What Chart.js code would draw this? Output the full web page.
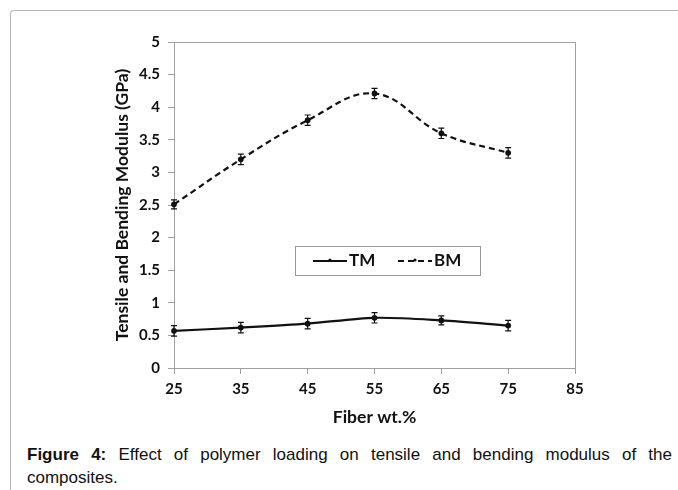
<!DOCTYPE html>
<html>
<head>
<meta charset="utf-8">
<script src="https://cdn.jsdelivr.net/npm/chart.js@4.4.0/dist/chart.umd.min.js"></script>
<style>
  body { margin: 0; background: #fff; width: 678px; height: 490px; overflow: hidden; position: relative; }
  #frame { position: absolute; left: 10px; top: 10px; width: 700px; height: 520px;
    border-top: 1px solid #b4b4b4; border-left: 1px solid #b4b4b4; border-top-left-radius: 4px; }
  #wrap { position: absolute; left: 0; top: 0; width: 678px; height: 440px; }
  #caption { position: absolute; left: 27px; top: 443px; width: 645px;
    font-family: "Liberation Sans", Arial, sans-serif; font-size: 17px; line-height: 23px;
    text-align: justify; text-align-last: left; color: #111; }
</style>
</head>
<body>
<div id="frame"></div>
<div id="wrap"><canvas id="chart"></canvas></div>
<div id="caption"><b>Figure 4:</b> Effect of polymer loading on tensile and bending modulus of the composites.</div>
<script>
// ------- Data -------
let fiber = [25, 35, 45, 55, 65, 75];
let tm = [0.57, 0.62, 0.68, 0.77, 0.73, 0.65];
let tmErr = [0.08, 0.08, 0.08, 0.08, 0.07, 0.08];
let bm = [2.51, 3.20, 3.80, 4.21, 3.60, 3.30];
let bmErr = [0.07, 0.08, 0.08, 0.08, 0.08, 0.08];

let family = "Lato, 'Open Sans', sans-serif";
let tickFont = { family: family, size: 15, weight: "bold" };
let titleFont = { family: family, size: 17.5, weight: "bold" };

// ------- Error bars -------
const errorBars = {
  id: "errorBars",
  afterDatasetsDraw(chart) {
    let ctx = chart.ctx, x = chart.scales.x, y = chart.scales.y;
    ctx.save();
    ctx.strokeStyle = "#111";
    ctx.lineWidth = 1.2;
    chart.data.datasets.forEach((ds) => {
      ds.data.forEach((p, i) => {
        let px = x.getPixelForValue(p.x);
        let top = y.getPixelForValue(p.y + ds.err[i]);
        let bot = y.getPixelForValue(p.y - ds.err[i]);
        ctx.beginPath();
        ctx.moveTo(px, top); ctx.lineTo(px, bot);
        ctx.moveTo(px - 3, top); ctx.lineTo(px + 3, top);
        ctx.moveTo(px - 3, bot); ctx.lineTo(px + 3, bot);
        ctx.stroke();
      });
    });
    ctx.restore();
  },
};

// ------- Box round plot + legend -------
const boxAndLegend = {
  id: "boxAndLegend",
  beforeDatasetsDraw(chart) {
    let { ctx, chartArea: a } = chart;
    ctx.save();
    ctx.strokeStyle = "#a0a0a0";
    ctx.lineWidth = 1;
    ctx.strokeRect(a.left + 0.5, a.top + 0.5, a.right - a.left, a.bottom - a.top);
    ctx.restore();
  },
  afterDraw(chart) {
    let ctx = chart.ctx;
    let bx = 295, by = 246, bw = 185, bh = 29;
    ctx.save();
    ctx.fillStyle = "#fff";
    ctx.fillRect(bx, by, bw, bh);
    ctx.strokeStyle = "#999";
    ctx.lineWidth = 1;
    ctx.strokeRect(bx + 0.5, by + 0.5, bw, bh);
    let cy = by + bh / 2 + 0.5;
    let items = [{ x: 313 }, { x: 398 }];
    chart.data.datasets.forEach((ds, i) => {
      let lx = items[i].x;
      ctx.strokeStyle = "#111";
      ctx.lineWidth = 2;
      ctx.setLineDash(ds.borderDash || []);
      ctx.beginPath();
      ctx.moveTo(lx, cy); ctx.lineTo(lx + 34, cy);
      ctx.stroke();
      ctx.setLineDash([]);
      ctx.fillStyle = "#111";
      ctx.beginPath();
      ctx.arc(lx + 17, cy - 1, 1.6, 0, Math.PI * 2);
      ctx.fill();
      ctx.font = "bold 17px " + family;
      ctx.textBaseline = "middle";
      ctx.fillText(ds.label, lx + 36, cy);
    });
    ctx.restore();
  },
};

new Chart("chart", {
  type: "line",
  data: {
    datasets: [
      {
        label: "TM",
        data: fiber.map((f, i) => ({ x: f, y: tm[i] })),
        err: tmErr,
        borderColor: "#111",
        backgroundColor: "#111",
        borderWidth: 2.2,
        pointRadius: 1.8,
        tension: 0.3,
      },
      {
        label: "BM",
        data: fiber.map((f, i) => ({ x: f, y: bm[i] })),
        err: bmErr,
        borderColor: "#111",
        backgroundColor: "#111",
        borderWidth: 2.2,
        borderDash: [6, 4],
        pointRadius: 1.8,
        tension: 0.4,
      },
    ],
  },
  plugins: [boxAndLegend, errorBars],
  options: {
    responsive: true,
    maintainAspectRatio: false,
    animation: false,
    clip: false,
    layout: { padding: { left: 108, right: 103, top: 42, bottom: 0 } },
    plugins: { legend: { display: false }, tooltip: { enabled: false } },
    scales: {
      x: {
        type: "linear",
        min: 25,
        max: 85,
        ticks: { stepSize: 10, color: "#111", font: tickFont, padding: 6 },
        grid: { drawOnChartArea: false, tickLength: 6, color: "#a0a0a0" },
        border: { color: "#a0a0a0" },
        title: { display: true, text: "Fiber wt.%", color: "#111", font: titleFont, padding: { top: 4, bottom: 12 } },
        afterFit(s) { s.height = 72; },
      },
      y: {
        min: 0,
        max: 5,
        ticks: {
          stepSize: 0.5, color: "#111", font: tickFont, padding: 8,
          callback: (v) => String(Math.round(v * 10) / 10),
        },
        grid: { drawOnChartArea: false, tickLength: 6, color: "#a0a0a0" },
        border: { color: "#a0a0a0" },
        title: { display: true, text: "Tensile and Bending Modulus (GPa)", color: "#111", font: titleFont },
        afterFit(s) { s.width = 66; },
      },
    },
  },
});
</script>
</body>
</html>
